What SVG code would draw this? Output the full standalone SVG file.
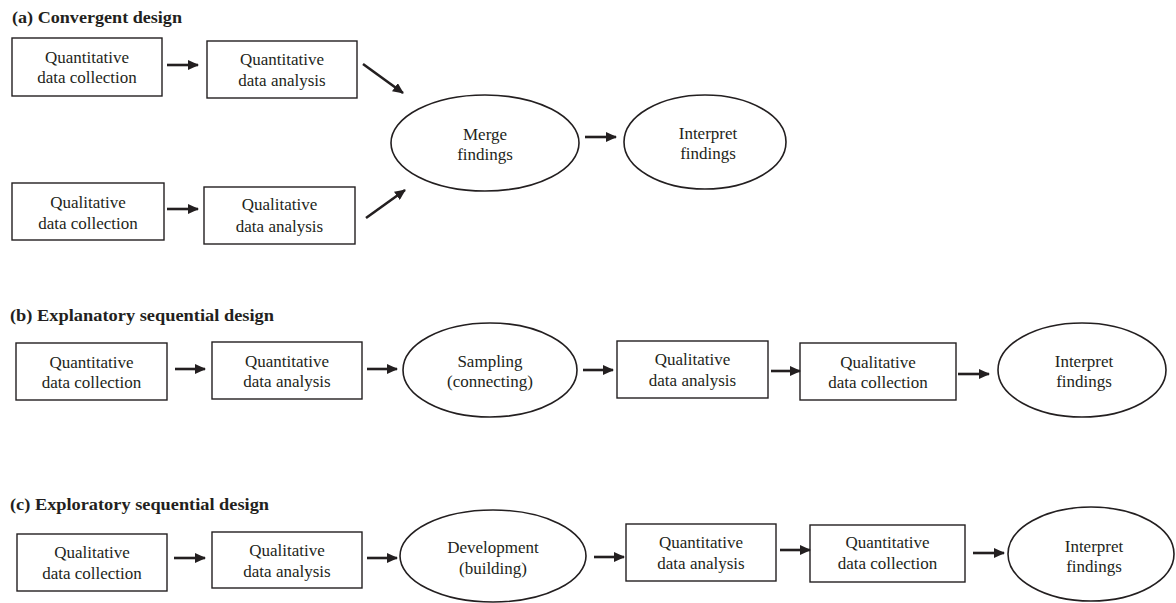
<svg xmlns="http://www.w3.org/2000/svg" width="1176" height="603" viewBox="0 0 1176 603">
<style>
  .bg{fill:#fff}
  .box{fill:#fff;stroke:#231f20;stroke-width:1.4}
  .ell{fill:#fff;stroke:#231f20;stroke-width:1.6}
  text{font-family:"Liberation Serif","Times New Roman",serif}
  .lbl{font-size:17px;fill:#231f20;text-anchor:middle}
  .ttl{font-size:17px;font-weight:bold;fill:#231f20}
  .arr{stroke:#231f20;stroke-width:2.6;fill:none;marker-end:url(#ah)}
</style>
<defs>
  <marker id="ah" markerUnits="userSpaceOnUse" markerWidth="11" markerHeight="10" refX="10" refY="5" orient="auto">
    <path d="M0,0 L11,5 L0,10 z" fill="#231f20"/>
  </marker>
</defs>
<rect class="bg" x="0" y="0" width="1176" height="603"/>

<g id="titles" font-family="Liberation Serif, serif">
  <text class="ttl" x="12" y="23" textLength="170" lengthAdjust="spacingAndGlyphs">(a) Convergent design</text>
  <text class="ttl" x="10" y="321" textLength="264" lengthAdjust="spacingAndGlyphs">(b) Explanatory sequential design</text>
  <text class="ttl" x="10" y="510" textLength="259" lengthAdjust="spacingAndGlyphs">(c) Exploratory sequential design</text>
</g>

<g id="nodes" font-family="Liberation Serif, serif">
<!-- (a) -->
<g id="a1"><rect class="box" x="12" y="38" width="150" height="58"/><text class="lbl"><tspan x="87" y="63">Quantitative</tspan><tspan x="87" y="83">data collection</tspan></text></g>
<g id="a2"><rect class="box" x="207" y="41" width="150" height="57"/><text class="lbl"><tspan x="282" y="65">Quantitative</tspan><tspan x="282" y="86">data analysis</tspan></text></g>
<g id="a3"><rect class="box" x="12" y="183" width="152" height="57"/><text class="lbl"><tspan x="88" y="208">Qualitative</tspan><tspan x="88" y="229">data collection</tspan></text></g>
<g id="a4"><rect class="box" x="204" y="187" width="151" height="57"/><text class="lbl"><tspan x="279.5" y="210">Qualitative</tspan><tspan x="279.5" y="232">data analysis</tspan></text></g>
<g id="a5"><ellipse class="ell" cx="485" cy="143" rx="94" ry="48"/><text class="lbl"><tspan x="485" y="140">Merge</tspan><tspan x="485" y="160">findings</tspan></text></g>
<g id="a6"><ellipse class="ell" cx="705" cy="142" rx="81" ry="47"/><text class="lbl"><tspan x="708" y="139">Interpret</tspan><tspan x="708" y="159">findings</tspan></text></g>

<!-- (b) -->
<g id="b1"><rect class="box" x="16" y="343" width="151" height="57"/><text class="lbl"><tspan x="91.5" y="368">Quantitative</tspan><tspan x="91.5" y="388">data collection</tspan></text></g>
<g id="b2"><rect class="box" x="212" y="342" width="150" height="57"/><text class="lbl"><tspan x="287" y="367">Quantitative</tspan><tspan x="287" y="387">data analysis</tspan></text></g>
<g id="b3"><ellipse class="ell" cx="490" cy="370" rx="87" ry="47"/><text class="lbl"><tspan x="490" y="367">Sampling</tspan><tspan x="490" y="387">(connecting)</tspan></text></g>
<g id="b4"><rect class="box" x="617" y="341" width="151" height="57"/><text class="lbl"><tspan x="692.5" y="365">Qualitative</tspan><tspan x="692.5" y="386">data analysis</tspan></text></g>
<g id="b5"><rect class="box" x="800" y="343" width="156" height="57"/><text class="lbl"><tspan x="878" y="368">Qualitative</tspan><tspan x="878" y="388">data collection</tspan></text></g>
<g id="b6"><ellipse class="ell" cx="1082" cy="370" rx="84" ry="47"/><text class="lbl"><tspan x="1084" y="367">Interpret</tspan><tspan x="1084" y="387">findings</tspan></text></g>

<!-- (c) -->
<g id="c1"><rect class="box" x="17" y="534" width="150" height="57"/><text class="lbl"><tspan x="92" y="558">Qualitative</tspan><tspan x="92" y="579">data collection</tspan></text></g>
<g id="c2"><rect class="box" x="212" y="532" width="150" height="56"/><text class="lbl"><tspan x="287" y="556">Qualitative</tspan><tspan x="287" y="577">data analysis</tspan></text></g>
<g id="c3"><ellipse class="ell" cx="493" cy="556" rx="93" ry="46"/><text class="lbl"><tspan x="493" y="553">Development</tspan><tspan x="493" y="574">(building)</tspan></text></g>
<g id="c4"><rect class="box" x="626" y="524" width="150" height="57"/><text class="lbl"><tspan x="701" y="548">Quantitative</tspan><tspan x="701" y="569">data analysis</tspan></text></g>
<g id="c5"><rect class="box" x="810" y="525" width="155" height="57"/><text class="lbl"><tspan x="887.5" y="548">Quantitative</tspan><tspan x="887.5" y="569">data collection</tspan></text></g>
<g id="c6"><ellipse class="ell" cx="1091" cy="554" rx="83" ry="47"/><text class="lbl"><tspan x="1094" y="552">Interpret</tspan><tspan x="1094" y="572">findings</tspan></text></g>
</g>

<g id="connectors">
  <line class="arr" x1="167" y1="65" x2="198" y2="65"/>
  <line class="arr" x1="167" y1="209" x2="198" y2="209"/>
  <line class="arr" x1="363" y1="64" x2="403" y2="93"/>
  <line class="arr" x1="366" y1="218" x2="405" y2="190"/>
  <line class="arr" x1="585" y1="137" x2="616" y2="137"/>

  <line class="arr" x1="175" y1="369" x2="205" y2="369"/>
  <line class="arr" x1="367" y1="369" x2="397" y2="369"/>
  <line class="arr" x1="583" y1="370" x2="613" y2="370"/>
  <line class="arr" x1="771" y1="371" x2="800" y2="371"/>
  <line class="arr" x1="958" y1="374" x2="989" y2="374"/>

  <line class="arr" x1="174" y1="558" x2="205" y2="558"/>
  <line class="arr" x1="367" y1="558" x2="397" y2="558"/>
  <line class="arr" x1="594" y1="557" x2="624" y2="557"/>
  <line class="arr" x1="780" y1="550" x2="810" y2="550"/>
  <line class="arr" x1="973" y1="553" x2="1004" y2="553"/>
</g>
</svg>
